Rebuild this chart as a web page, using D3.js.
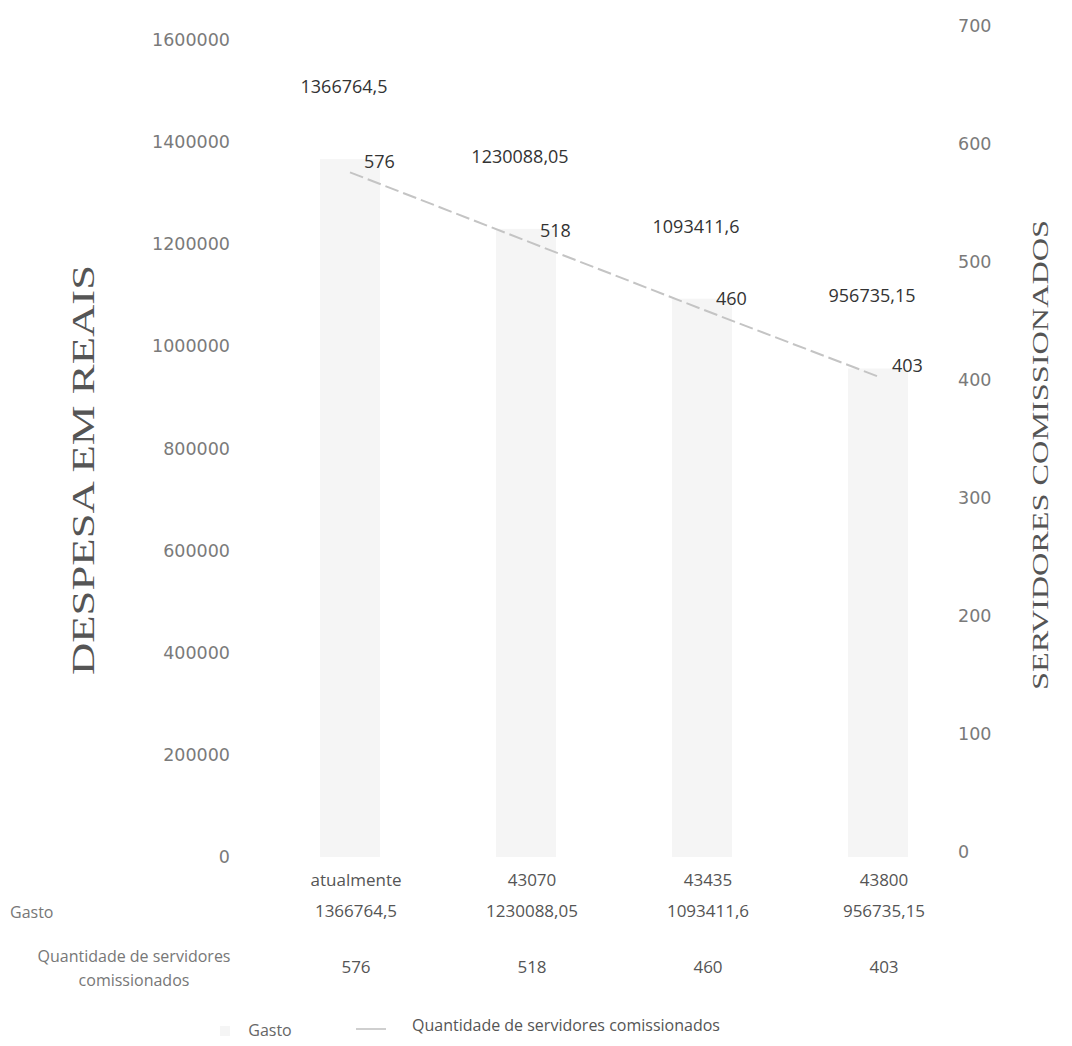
<!DOCTYPE html>
<html>
<head>
<meta charset="utf-8">
<script src="https://cdn.jsdelivr.net/npm/d3@7"></script>
<style>
  body { margin: 0; background: #fff; }
  svg { display: block; }
</style>
</head>
<body>
<svg id="chart"></svg>
<script>
// values
let categories = ["atualmente", "43070", "43435", "43800"];
let gasto = [1366764.5, 1230088.05, 1093411.6, 956735.15];
let gastoLabels = ["1366764,5", "1230088,05", "1093411,6", "956735,15"];
let servidores = [576, 518, 460, 403];
let leftTicks = [0, 200000, 400000, 600000, 800000, 1000000, 1200000, 1400000, 1600000];
let rightTicks = [0, 100, 200, 300, 400, 500, 600, 700];

function getConfig() {
  let width = 1072;
  let height = 1046;
  let svg = d3.select("#chart")
    .attr("width", width)
    .attr("height", height);
  let x = d3.scaleBand().domain(categories).range([262, 966]);
  let yL = d3.scaleLinear().domain([0, 1600000]).range([857, 40]);
  let yR = d3.scaleLinear().domain([0, 700]).range([852, 26]);
  return {width, height, svg, x, yL, yR};
}

function drawAxes(config) {
  let {svg, yL, yR} = config;
  let left = svg.append("g")
    .attr("transform", "translate(234,0)")
    .call(d3.axisLeft(yL).tickValues(leftTicks).tickSize(0).tickPadding(4).tickFormat(d => d));
  let right = svg.append("g")
    .attr("transform", "translate(954,0)")
    .call(d3.axisRight(yR).tickValues(rightTicks).tickSize(0).tickPadding(4));
  for (let g of [left, right]) {
    g.select(".domain").remove();
    g.selectAll("text")
      .attr("font-family", "DejaVu Sans, sans-serif")
      .attr("font-size", 17.5)
      .attr("fill", "#7a7a7a");
  }

  svg.append("text")
    .attr("transform", "translate(94,470) rotate(-90)")
    .attr("text-anchor", "middle")
    .attr("font-family", "Liberation Serif, serif")
    .attr("font-size", 32)
    .attr("fill", "#555")
    .attr("textLength", 410)
    .attr("lengthAdjust", "spacingAndGlyphs")
    .text("DESPESA EM REAIS");

  svg.append("text")
    .attr("transform", "translate(1048,455) rotate(-90)")
    .attr("text-anchor", "middle")
    .attr("font-family", "Liberation Serif, serif")
    .attr("font-size", 24)
    .attr("fill", "#555")
    .attr("textLength", 470)
    .attr("lengthAdjust", "spacingAndGlyphs")
    .text("SERVIDORES COMISSIONADOS");
}

function drawBars(config) {
  let {svg, x, yL} = config;
  let barW = 60;
  let cx = d => x(d) + x.bandwidth() / 2;
  let data = categories.map((c, i) => ({c, v: gasto[i], label: gastoLabels[i]}));

  svg.append("g").selectAll("rect").data(data)
    .enter().append("rect")
    .attr("x", d => cx(d.c) - barW / 2)
    .attr("y", d => yL(d.v))
    .attr("width", barW)
    .attr("height", d => yL(0) - yL(d.v))
    .attr("fill", "#f5f5f5");

  svg.append("g").selectAll("text").data(data)
    .enter().append("text")
    .attr("x", d => cx(d.c) - 6)
    .attr("y", d => yL(d.v) - 66)
    .attr("text-anchor", "middle")
    .attr("font-family", "Open Sans, sans-serif")
    .attr("font-size", 18)
    .attr("fill", "#333")
    .text(d => d.label);
}

function drawLine(config) {
  let {svg, x, yR} = config;
  let cx = d => x(d) + x.bandwidth() / 2;
  let data = categories.map((c, i) => ({c, v: servidores[i]}));
  let line = d3.line().x(d => cx(d.c)).y(d => yR(d.v));

  svg.append("path")
    .datum(data)
    .attr("d", line)
    .attr("fill", "none")
    .attr("stroke", "#c4c4c4")
    .attr("stroke-width", 2)
    .attr("stroke-dasharray", "14,5");

  svg.append("g").selectAll("text").data(data)
    .enter().append("text")
    .attr("x", d => cx(d.c) + 14)
    .attr("y", d => yR(d.v) - 4)
    .attr("font-family", "Open Sans, sans-serif")
    .attr("font-size", 18)
    .attr("fill", "#333")
    .text(d => d.v);
}

function drawTable(config) {
  let {svg, x} = config;
  let cx = d => x(d) + x.bandwidth() / 2 + 6;
  let font = "Open Sans, sans-serif";
  let rows = [
    {y: 886, values: categories},
    {y: 917, values: gastoLabels},
    {y: 973, values: servidores}
  ];
  for (let r of rows) {
    svg.append("g").selectAll("text").data(categories)
      .enter().append("text")
      .attr("x", d => cx(d))
      .attr("y", r.y)
      .attr("text-anchor", "middle")
      .attr("font-family", font)
      .attr("font-size", 17)
      .attr("fill", "#555")
      .text((d, i) => r.values[i]);
  }

  svg.append("text")
    .attr("x", 10).attr("y", 918)
    .attr("font-family", font).attr("font-size", 16).attr("fill", "#777")
    .text("Gasto");
  svg.append("text")
    .attr("x", 134).attr("y", 962)
    .attr("text-anchor", "middle")
    .attr("font-family", font).attr("font-size", 16).attr("fill", "#777")
    .text("Quantidade de servidores");
  svg.append("text")
    .attr("x", 134).attr("y", 986)
    .attr("text-anchor", "middle")
    .attr("font-family", font).attr("font-size", 16).attr("fill", "#777")
    .text("comissionados");
}

function drawLegend(config) {
  let {svg} = config;
  let font = "Open Sans, sans-serif";
  svg.append("rect")
    .attr("x", 220).attr("y", 1026).attr("width", 10).attr("height", 10)
    .attr("fill", "#f5f5f5");
  svg.append("text")
    .attr("x", 270).attr("y", 1036)
    .attr("text-anchor", "middle")
    .attr("font-family", font).attr("font-size", 16).attr("fill", "#666")
    .text("Gasto");
  svg.append("line")
    .attr("x1", 356).attr("x2", 386).attr("y1", 1029).attr("y2", 1029)
    .attr("stroke", "#cfcfcf").attr("stroke-width", 2);
  svg.append("text")
    .attr("x", 412).attr("y", 1031)
    .attr("font-family", font).attr("font-size", 16).attr("fill", "#555")
    .text("Quantidade de servidores comissionados");
}

function showChart() {
  let config = getConfig();
  drawBars(config);
  drawLine(config);
  drawAxes(config);
  drawTable(config);
  drawLegend(config);
}

showChart();
</script>
</body>
</html>
